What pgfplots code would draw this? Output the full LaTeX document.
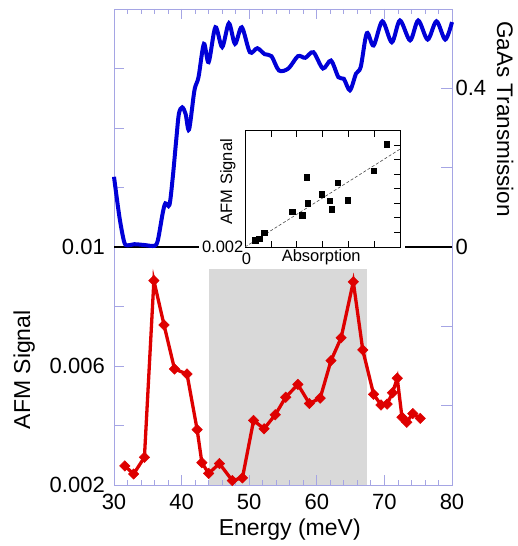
\documentclass[border=0pt]{standalone}
\usepackage{pgfplots}
\pgfplotsset{compat=1.18}
\usepackage{fontspec}
\setmainfont{Liberation Sans}
\definecolor{framecol}{RGB}{165,165,228}
\definecolor{myred}{RGB}{222,0,0}
\definecolor{myblue}{RGB}{0,0,215}
\definecolor{shade}{RGB}{217,217,217}
\begin{document}
\begin{tikzpicture}
\useasboundingbox (0,0) rectangle (518pt,546pt);
% ---------- main axis (AFM signal) ----------
\begin{axis}[
  at={(114pt,61pt)}, anchor=south west,
  width=338pt, height=476pt, scale only axis,
  xmin=30, xmax=80, ymin=0.002, ymax=0.018,
  clip=false, axis on top,
  axis line style={draw=framecol, line width=0.8pt},
  every tick/.style={draw=framecol, line width=0.8pt},
  tick align=inside,
  major tick length=10pt, minor tick length=5pt,
  xtick={30,40,50,60,70,80}, xticklabels={30,40,50,60,70,80},
  minor xtick={32,34,...,78},
  xtick pos=both, xticklabel pos=bottom,
  ytick={0.002,0.004,0.006,0.008,0.010,0.012,0.014,0.016,0.018},
  yticklabels={0.002,,0.006,,0.01,,,,},
  ytick pos=left,
  scaled y ticks=false,
  tick label style={font=\fontsize{22}{26}\selectfont},
  xticklabel style={inner ysep=0pt, yshift=-8.5pt},
  yticklabel style={inner ysep=0pt, inner xsep=0pt, xshift=-9pt},
  xlabel={Energy (meV)}, ylabel={AFM Signal},
  label style={font=\fontsize{23}{27}\selectfont},
  xlabel style={at={(rel axis cs:0.52,-0.094)}, anchor=center},
  ylabel style={at={(rel axis cs:-0.266,0.242)}, anchor=center},
]
\addplot[fill=shade, draw=none] coordinates {(44,0.002) (44,0.00926) (67.4,0.00926) (67.4,0.002)} -- cycle;
\addplot[myred, line width=3.3pt, mark=square*, mark size=3.7pt,
  mark options={rotate=45, solid, fill=myred, draw=myred, line width=0.5pt}]
  coordinates {
  (31.6,0.00264) (32.9,0.00237) (34.5,0.00293) (35.9,0.00887) (37.4,0.00738)
  (38.95,0.00590) (40.8,0.00573) (42.3,0.00386) (43.0,0.00275) (44.0,0.00239)
  (45.6,0.00272) (47.5,0.00215) (49.0,0.00224) (50.65,0.00417) (52.2,0.00389)
  (53.85,0.00436) (55.4,0.00495) (57.2,0.00538) (58.9,0.00474) (60.5,0.00492)
  (62.1,0.00618) (63.6,0.00695) (65.4,0.00883) (66.8,0.00654) (68.4,0.00505)
  (69.5,0.00469) (70.4,0.00472) (71.2,0.00510) (71.9,0.00559) (72.6,0.00428)
  (73.3,0.00411) (74.2,0.00440) (75.3,0.00424)
  };
\end{axis}
% ---------- secondary axis (GaAs transmission) ----------
\begin{axis}[
  at={(114pt,61pt)}, anchor=south west,
  width=338pt, height=476pt, scale only axis,
  xmin=30, xmax=80, ymin=-0.6, ymax=0.6,
  clip=false,
  axis x line=none, axis y line*=right,
  axis line style={draw=framecol, line width=0.8pt, -},
  every tick/.style={draw=framecol, line width=0.8pt},
  tick align=inside, major tick length=11pt,
  ytick={-0.4,-0.2,0,0.2,0.4}, yticklabels={,,0,,0.4},
  tick label style={font=\fontsize{22}{26}\selectfont},
  ylabel={GaAs Transmission},
  ylabel style={font=\fontsize{22.5}{27}\selectfont, at={(rel axis cs:1.157,0.769)}, anchor=center, rotate=180},
]
\addplot[black, line width=1.2pt] coordinates {(30,0) (42.5,0)};
\addplot[black, line width=1.2pt] coordinates {(73.1,0) (80,0)};
\addplot[myblue, line width=4pt, smooth, tension=0.5] coordinates {
  (30.0,0.177) (30.8,0.076) (31.5,0.013) (32.0,0.004) (33.0,0.007) (34.5,0.005)
  (36.0,0.003) (36.5,0.018) (37.2,0.085) (37.6,0.110) (38.2,0.106) (38.7,0.177)
  (39.2,0.269) (39.6,0.336) (40.1,0.352) (40.6,0.335) (41.1,0.296) (41.9,0.395)
  (42.5,0.428) (43.3,0.512) (44.0,0.466) (45.0,0.554) (46.0,0.504) (47.0,0.564)
  (47.9,0.512) (48.9,0.554) (50.1,0.491) (51.2,0.501) (52.3,0.486) (53.3,0.481)
  (54.4,0.445) (55.8,0.450) (57.2,0.481) (58.3,0.477) (59.5,0.491) (60.9,0.450)
  (62.1,0.470) (63.2,0.428) (64.0,0.424) (64.9,0.395) (65.8,0.437) (66.5,0.454)
  (67.4,0.539) (68.4,0.508) (69.7,0.569) (71.1,0.516) (72.3,0.571) (73.8,0.521)
  (75.0,0.571) (76.4,0.523) (77.7,0.569) (79.0,0.523) (80.0,0.567)
  };
\end{axis}
% ---------- inset ----------
\begin{axis}[
  at={(245pt,299pt)}, anchor=south west,
  width=155.5pt, height=116.5pt, scale only axis,
  xmin=0, xmax=6, ymin=0.002, ymax=0.010,
  axis background/.style={fill=white},
  axis line style={draw=black, line width=0.8pt},
  every tick/.style={draw=black, line width=0.8pt},
  tick align=inside, major tick length=6pt,
  xtick={0,1,2,3,4,5,6}, xticklabels={0,,,,,,},
  xtick pos=both, xticklabel pos=bottom,
  ytick={0.002,0.003,0.004,0.005,0.006,0.007,0.008,0.009,0.010},
  yticklabels={0.002,,,,,,,,},
  ytick pos=right, yticklabel pos=left,
  scaled y ticks=false,
  tick label style={font=\fontsize{16.5}{19}\selectfont},
  yticklabel style={fill=white, inner xsep=1.5pt, inner ysep=0pt},
  xticklabel style={inner sep=0pt, yshift=-6pt, xshift=1.5pt},
  xlabel={Absorption}, ylabel={AFM Signal},
  label style={font=\fontsize{16.5}{19}\selectfont},
  xlabel style={at={(rel axis cs:0.49,-0.085)}, anchor=center},
  ylabel style={at={(rel axis cs:-0.11,0.56)}, anchor=center},
]
\addplot[black!70, line width=0.6pt, densely dashed] coordinates {(0,0.002) (6,0.00874)};
\addplot[only marks, mark=square*, mark size=2.7pt, black] coordinates {
  (0.39,0.00246) (0.55,0.00255) (0.74,0.00299) (1.82,0.00444) (2.21,0.00418)
  (2.37,0.00678) (2.41,0.00501) (2.95,0.00563) (3.26,0.00517) (3.35,0.00460)
  (3.57,0.00641) (3.97,0.00522) (4.97,0.00722) (5.46,0.00906)
  };
\end{axis}
\end{tikzpicture}
\end{document}
